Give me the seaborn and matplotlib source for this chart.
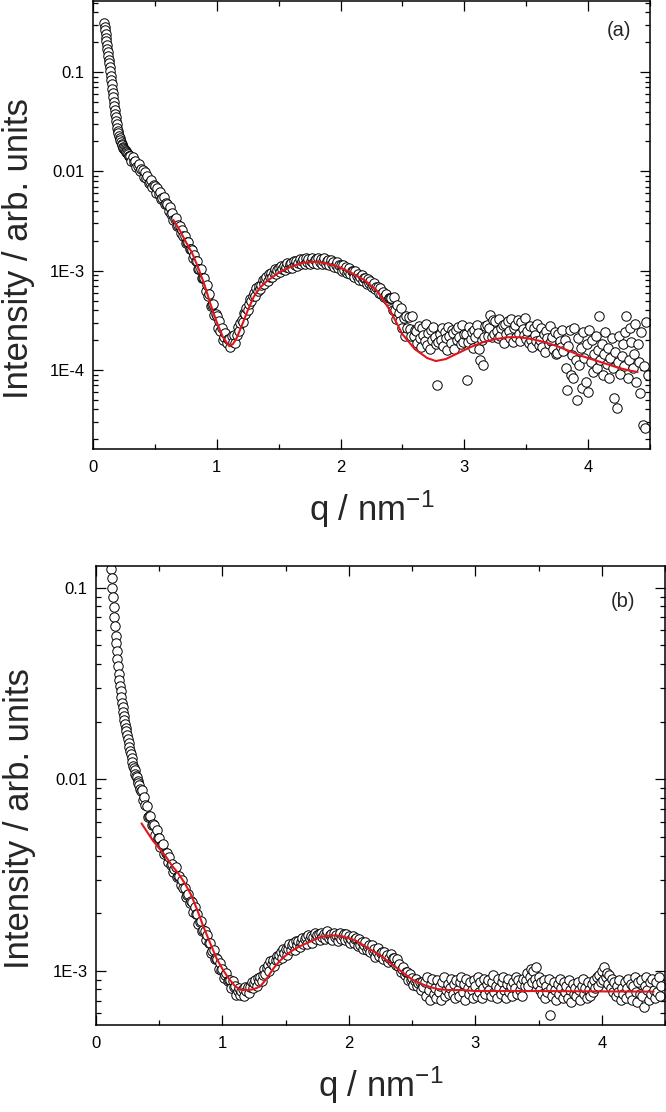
import numpy as np
import matplotlib
matplotlib.use("Agg")
import matplotlib.pyplot as plt
from matplotlib.ticker import FixedLocator, FixedFormatter, LogLocator, NullFormatter, MultipleLocator
import seaborn as sns

sns.set_style("ticks")
plt.rcParams["font.family"] = ["Liberation Sans", "DejaVu Sans"]
plt.rcParams["mathtext.default"] = "regular"

q_a = [0.089, 0.093, 0.097, 0.101, 0.105, 0.109, 0.113, 0.117, 0.121, 0.125,
       0.129, 0.133, 0.137, 0.141, 0.145, 0.149, 0.153, 0.157, 0.161, 0.165,
       0.169, 0.173, 0.177, 0.181, 0.185, 0.189, 0.193, 0.197, 0.201, 0.206,
       0.211, 0.216, 0.221, 0.226, 0.231, 0.236, 0.241, 0.246, 0.251, 0.257,
       0.263, 0.269, 0.275, 0.281, 0.287, 0.293,
       0.30, 0.31, 0.32, 0.33, 0.34, 0.35, 0.36, 0.37, 0.38, 0.39,
       0.40, 0.41, 0.42, 0.43, 0.44, 0.45, 0.46, 0.47, 0.48, 0.49,
       0.50, 0.51, 0.52, 0.53, 0.54, 0.55, 0.56, 0.57, 0.58, 0.59,
       0.60, 0.61, 0.62, 0.63, 0.64, 0.65, 0.66, 0.67, 0.68, 0.69,
       0.70, 0.71, 0.72, 0.73, 0.74, 0.75, 0.76, 0.77, 0.78, 0.79,
       0.80, 0.81, 0.82, 0.83, 0.84, 0.85, 0.86, 0.87, 0.88, 0.89,
       0.90, 0.91, 0.92, 0.93, 0.94, 0.95, 0.96, 0.97, 0.98, 0.99,
       1.00, 1.01, 1.02, 1.03, 1.04, 1.05, 1.06, 1.07, 1.08, 1.09,
       1.10, 1.11, 1.12, 1.13, 1.14, 1.15, 1.16, 1.17, 1.18, 1.19,
       1.20, 1.21, 1.22, 1.23, 1.24, 1.25, 1.26, 1.27, 1.28, 1.29,
       1.30, 1.31, 1.32, 1.33, 1.34, 1.35, 1.36, 1.37, 1.38, 1.39,
       1.40, 1.41, 1.42, 1.43, 1.44, 1.45, 1.46, 1.47, 1.48, 1.49,
       1.50, 1.51, 1.52, 1.53, 1.54, 1.55, 1.56, 1.57, 1.58, 1.59,
       1.60, 1.61, 1.62, 1.63, 1.64, 1.65, 1.66, 1.67, 1.68, 1.69,
       1.70, 1.71, 1.72, 1.73, 1.74, 1.75, 1.76, 1.77, 1.78, 1.79,
       1.80, 1.81, 1.82, 1.83, 1.84, 1.85, 1.86, 1.87, 1.88, 1.89,
       1.90, 1.91, 1.92, 1.93, 1.94, 1.95, 1.96, 1.97, 1.98, 1.99,
       2.00, 2.01, 2.02, 2.03, 2.04, 2.05, 2.06, 2.07, 2.08, 2.09,
       2.10, 2.11, 2.12, 2.13, 2.14, 2.15, 2.16, 2.17, 2.18, 2.19,
       2.20, 2.21, 2.22, 2.23, 2.24, 2.25, 2.26, 2.27, 2.28, 2.29,
       2.30, 2.31, 2.32, 2.33, 2.34, 2.35, 2.36, 2.37, 2.38, 2.39,
       2.40,
       2.41, 2.42, 2.43, 2.44, 2.45, 2.46, 2.47, 2.48, 2.49, 2.50,
       2.51, 2.52, 2.53, 2.54, 2.55, 2.56, 2.57, 2.58, 2.59, 2.60,
       2.61, 2.62, 2.63, 2.64, 2.65, 2.66, 2.67, 2.68, 2.69, 2.70,
       2.71, 2.72, 2.73, 2.74, 2.75, 2.76, 2.77, 2.78, 2.79, 2.80,
       2.81, 2.82, 2.83, 2.84, 2.85, 2.86, 2.87, 2.88, 2.89, 2.90,
       2.91, 2.92, 2.93, 2.94, 2.95, 2.96, 2.97, 2.98, 2.99, 3.00,
       3.01, 3.02, 3.03, 3.04, 3.05, 3.06, 3.07, 3.08, 3.09, 3.10,
       3.11, 3.12, 3.13, 3.14, 3.15, 3.16, 3.17, 3.18, 3.19, 3.20,
       3.21, 3.22, 3.23, 3.24, 3.25, 3.26, 3.27, 3.28, 3.29, 3.30,
       3.31, 3.32, 3.33, 3.34, 3.35, 3.36, 3.37, 3.38, 3.39, 3.40,
       3.41, 3.42, 3.43, 3.44, 3.45, 3.46, 3.47, 3.48, 3.49, 3.50,
       3.51, 3.52, 3.53, 3.54, 3.55, 3.56, 3.57, 3.58, 3.59, 3.60,
       3.61, 3.62, 3.63, 3.64, 3.65, 3.66, 3.67, 3.68, 3.69, 3.70,
       3.71, 3.72, 3.73, 3.74, 3.75, 3.76, 3.77, 3.78, 3.79, 3.80,
       3.81, 3.82, 3.83, 3.84, 3.85, 3.86, 3.87, 3.88, 3.89, 3.90,
       3.91, 3.92, 3.93, 3.94, 3.95, 3.96, 3.97, 3.98, 3.99, 4.00,
       4.01, 4.02, 4.03, 4.04, 4.05, 4.06, 4.07, 4.08, 4.09, 4.10,
       4.11, 4.12, 4.13, 4.14, 4.15, 4.16, 4.17, 4.18, 4.19, 4.20,
       4.21, 4.22, 4.23, 4.24, 4.25, 4.26, 4.27, 4.28, 4.29, 4.30,
       4.31, 4.32, 4.33, 4.34, 4.35, 4.36, 4.37, 4.38, 4.39, 4.40,
       4.41, 4.42, 4.43, 4.44, 4.45, 4.46, 4.47, 4.48]
logi_a = [-0.51, -0.55, -0.58, -0.62, -0.66, -0.69, -0.73, -0.77, -0.80, -0.84,
          -0.88, -0.91, -0.95, -0.99, -1.04, -1.08, -1.12, -1.17, -1.21, -1.25,
          -1.30, -1.34, -1.38, -1.42, -1.45, -1.49, -1.52, -1.56, -1.59, -1.61,
          -1.64, -1.66, -1.68, -1.70, -1.72, -1.73, -1.75, -1.76, -1.77, -1.78,
          -1.79, -1.80, -1.81, -1.82, -1.84, -1.85,
          -1.84, -1.90, -1.86, -1.91, -1.90, -1.96, -1.95, -1.93, -2.00, -1.98,
          -1.99, -2.06, -2.01, -2.07, -2.05, -2.12, -2.11, -2.09, -2.16, -2.14,
          -2.15, -2.22, -2.17, -2.23, -2.21, -2.28, -2.27, -2.26, -2.33, -2.32,
          -2.33, -2.40, -2.36, -2.43, -2.42, -2.49, -2.48, -2.47, -2.55, -2.54,
          -2.55, -2.62, -2.59, -2.65, -2.65, -2.72, -2.71, -2.71, -2.78, -2.78,
          -2.79, -2.87, -2.84, -2.90, -2.90, -2.98, -2.98, -2.98, -3.07, -3.07,
          -3.07, -3.20, -3.14, -3.25, -3.23, -3.36, -3.35, -3.34, -3.45, -3.44,
          -3.46, -3.58, -3.51, -3.61, -3.58, -3.70, -3.67, -3.63, -3.73, -3.69,
          -3.69, -3.77, -3.66, -3.72, -3.65, -3.73, -3.65, -3.57, -3.61, -3.53,
          -3.50, -3.52, -3.43, -3.44, -3.38, -3.40, -3.34, -3.29, -3.31, -3.26,
          -3.22, -3.25, -3.17, -3.20, -3.15, -3.18, -3.14, -3.09, -3.13, -3.08,
          -3.06, -3.10, -3.03, -3.06, -3.02, -3.06, -3.02, -2.98, -3.03, -2.99,
          -2.97, -3.01, -2.95, -2.98, -2.95, -2.99, -2.96, -2.92, -2.97, -2.93,
          -2.92, -2.97, -2.90, -2.94, -2.90, -2.95, -2.92, -2.88, -2.93, -2.90,
          -2.88, -2.93, -2.87, -2.91, -2.88, -2.93, -2.90, -2.87, -2.92, -2.89,
          -2.88, -2.93, -2.87, -2.91, -2.88, -2.93, -2.90, -2.87, -2.93, -2.90,
          -2.89, -2.94, -2.89, -2.93, -2.91, -2.96, -2.94, -2.91, -2.97, -2.94,
          -2.94, -3.00, -2.94, -2.99, -2.96, -3.02, -3.00, -2.97, -3.03, -3.00,
          -3.00, -3.06, -3.00, -3.05, -3.03, -3.09, -3.06, -3.04, -3.10, -3.07,
          -3.07, -3.13, -3.08, -3.12, -3.10, -3.16, -3.14, -3.12, -3.18, -3.16,
          -3.16, -3.22, -3.17, -3.23, -3.21, -3.27, -3.25, -3.23, -3.30, -3.28,
          -3.28,
          -3.28, -3.40, -3.27, -3.40, -3.49, -3.35, -3.43, -3.51, -3.38, -3.58,
          -3.48, -3.66, -3.46, -3.58, -3.47, -3.59, -3.66, -3.46, -3.66, -3.60,
          -3.61, -3.73, -3.56, -3.68, -3.77, -3.58, -3.65, -3.71, -3.54, -3.75,
          -3.63, -3.79, -3.60, -3.70, -3.57, -3.67, -3.74, -4.15, -3.72, -3.64,
          -3.70, -3.58, -3.76, -3.62, -3.68, -3.80, -3.57, -3.66, -3.73, -3.60,
          -3.63, -3.79, -3.60, -3.70, -3.57, -3.67, -3.74, -3.55, -3.72, -3.64,
          -3.64, -4.10, -3.72, -3.57, -3.69, -3.62, -3.78, -3.60, -3.67, -3.55,
          -3.63, -3.79, -3.90, -3.70, -3.95, -3.67, -3.56, -3.55, -3.66, -3.58,
          -3.45, -3.67, -3.50, -3.64, -3.51, -3.61, -3.68, -3.49, -3.66, -3.58,
          -3.55, -3.73, -3.54, -3.64, -3.51, -3.61, -3.68, -3.49, -3.72, -3.58,
          -3.55, -3.67, -3.50, -3.64, -3.71, -3.52, -3.59, -3.65, -3.48, -3.69,
          -3.61, -3.73, -3.56, -3.70, -3.77, -3.58, -3.65, -3.71, -3.54, -3.75,
          -3.70, -3.58, -3.77, -3.64, -3.82, -3.61, -3.68, -3.74, -3.56, -3.71,
          -3.67, -3.79, -3.62, -3.84, -3.83, -3.64, -3.71, -3.77, -3.60, -3.81,
          -3.70, -3.98, -4.20, -3.76, -3.60, -4.05, -3.85, -4.08, -3.58, -3.90,
          -4.30, -3.68, -3.95, -3.78, -4.18, -3.62, -3.88, -4.12, -3.74, -4.22,
          -3.60, -3.92, -3.70, -4.02, -3.84, -3.66, -3.98, -3.80, -3.46, -3.90,
          -3.74, -4.05, -3.84, -3.62, -3.94, -3.78, -4.08, -3.88, -3.68, -3.98,
          -4.28, -3.82, -4.38, -3.92, -3.66, -4.04, -3.86, -3.74, -3.96, -3.62,
          -3.46, -4.08, -3.90, -3.58, -3.72, -3.98, -3.84, -3.54, -4.12, -3.74,
          -3.92, -4.23, -3.62, -4.55, -3.96, -4.58, -3.52, -4.05]

# panel (a): fitted curve
qfit_a = [0.65, 0.70, 0.75, 0.80, 0.85, 0.90, 0.95, 1.00, 1.05, 1.10,
          1.13, 1.16, 1.20, 1.25, 1.30, 1.35, 1.40, 1.50, 1.60, 1.70,
          1.80, 1.90, 2.00, 2.10, 2.20, 2.30, 2.40, 2.50, 2.60, 2.70,
          2.77, 2.85, 2.95, 3.05, 3.15, 3.25, 3.35, 3.45, 3.55, 3.65,
          3.75, 3.85, 3.95, 4.05, 4.15, 4.25, 4.35, 4.40]
logfit_a = [-2.49, -2.59, -2.71, -2.82, -2.97, -3.14, -3.34, -3.52, -3.67, -3.76,
            -3.74, -3.68, -3.56, -3.40, -3.26, -3.17, -3.11, -3.02, -2.96, -2.92,
            -2.91, -2.93, -2.97, -3.03, -3.10, -3.21, -3.40, -3.64, -3.79, -3.88,
            -3.91, -3.89, -3.83, -3.77, -3.72, -3.69, -3.67, -3.67, -3.69, -3.72,
            -3.76, -3.81, -3.86, -3.90, -3.94, -3.98, -4.01, -4.02]

# ---- panel (b): measured points ----
q_b = [0.119, 0.124, 0.129, 0.134, 0.140, 0.145, 0.150, 0.155, 0.160, 0.165,
       0.170, 0.175, 0.180, 0.185, 0.190, 0.195, 0.200, 0.205, 0.210, 0.215,
       0.220, 0.225, 0.230, 0.235, 0.240, 0.246, 0.252, 0.258, 0.264, 0.270,
       0.276, 0.282, 0.288, 0.294, 0.300, 0.306, 0.312, 0.318, 0.324, 0.330,
       0.336, 0.342, 0.348, 0.354,
       0.36, 0.37, 0.38, 0.39, 0.40, 0.41, 0.42, 0.43, 0.44, 0.45,
       0.46, 0.47, 0.48, 0.49, 0.50, 0.51, 0.52, 0.53, 0.54, 0.55,
       0.56, 0.57, 0.58, 0.59, 0.60, 0.61, 0.62, 0.63, 0.64, 0.65,
       0.66, 0.67, 0.68, 0.69, 0.70, 0.71, 0.72, 0.73, 0.74, 0.75,
       0.76, 0.77, 0.78, 0.79, 0.80, 0.81, 0.82, 0.83, 0.84, 0.85,
       0.86, 0.87, 0.88, 0.89, 0.90, 0.91, 0.92, 0.93, 0.94, 0.95,
       0.96, 0.97, 0.98, 0.99, 1.00, 1.01, 1.02, 1.03, 1.04, 1.05,
       1.06, 1.07, 1.08, 1.09, 1.10, 1.11, 1.12, 1.13, 1.14, 1.15,
       1.16, 1.17, 1.18, 1.19, 1.20, 1.21, 1.22, 1.23, 1.24, 1.25,
       1.26, 1.27, 1.28, 1.29, 1.30, 1.31, 1.32, 1.33, 1.34, 1.35,
       1.36, 1.37, 1.38, 1.39, 1.40, 1.41, 1.42, 1.43, 1.44, 1.45,
       1.46, 1.47, 1.48, 1.49, 1.50, 1.51, 1.52, 1.53, 1.54, 1.55,
       1.56, 1.57, 1.58, 1.59, 1.60, 1.61, 1.62, 1.63, 1.64, 1.65,
       1.66, 1.67, 1.68, 1.69, 1.70, 1.71, 1.72, 1.73, 1.74, 1.75,
       1.76, 1.77, 1.78, 1.79, 1.80, 1.81, 1.82, 1.83, 1.84, 1.85,
       1.86, 1.87, 1.88, 1.89, 1.90, 1.91, 1.92, 1.93, 1.94, 1.95,
       1.96, 1.97, 1.98, 1.99, 2.00, 2.01, 2.02, 2.03, 2.04, 2.05,
       2.06, 2.07, 2.08, 2.09, 2.10, 2.11, 2.12, 2.13, 2.14, 2.15,
       2.16, 2.17, 2.18, 2.19, 2.20, 2.21, 2.22, 2.23, 2.24, 2.25,
       2.26, 2.27, 2.28, 2.29, 2.30, 2.31, 2.32, 2.33, 2.34, 2.35,
       2.36, 2.37, 2.38, 2.39, 2.40, 2.41, 2.42, 2.43, 2.44, 2.45,
       2.46, 2.47, 2.48, 2.49, 2.50, 2.51, 2.52, 2.53, 2.54, 2.55,
       2.56, 2.57, 2.58, 2.59,
       2.60, 2.61, 2.62, 2.63, 2.64, 2.65, 2.66, 2.67, 2.68, 2.69,
       2.70, 2.71, 2.72, 2.73, 2.74, 2.75, 2.76, 2.77, 2.78, 2.79,
       2.80, 2.81, 2.82, 2.83, 2.84, 2.85, 2.86, 2.87, 2.88, 2.89,
       2.90, 2.91, 2.92, 2.93, 2.94, 2.95, 2.96, 2.97, 2.98, 2.99,
       3.00, 3.01, 3.02, 3.03, 3.04, 3.05, 3.06, 3.07, 3.08, 3.09,
       3.10, 3.11, 3.12, 3.13, 3.14, 3.15, 3.16, 3.17, 3.18, 3.19,
       3.20, 3.21, 3.22, 3.23, 3.24, 3.25, 3.26, 3.27, 3.28, 3.29,
       3.30, 3.31, 3.32, 3.33, 3.34, 3.35, 3.36, 3.37, 3.38, 3.39,
       3.40, 3.41, 3.42, 3.43, 3.44, 3.45, 3.46, 3.47, 3.48, 3.49,
       3.50, 3.51, 3.52, 3.53, 3.54, 3.55, 3.56, 3.57, 3.58, 3.59,
       3.60, 3.61, 3.62, 3.63, 3.64, 3.65, 3.66, 3.67, 3.68, 3.69,
       3.70, 3.71, 3.72, 3.73, 3.74, 3.75, 3.76, 3.77, 3.78, 3.79,
       3.80, 3.81, 3.82, 3.83, 3.84, 3.85, 3.86, 3.87, 3.88, 3.89,
       3.90, 3.91, 3.92, 3.93, 3.94, 3.95, 3.96, 3.97, 3.98, 3.99,
       4.00, 4.01, 4.02, 4.03, 4.04, 4.05, 4.06, 4.07, 4.08, 4.09,
       4.10, 4.11, 4.12, 4.13, 4.14, 4.15, 4.16, 4.17, 4.18, 4.19,
       4.20, 4.21, 4.22, 4.23, 4.24, 4.25, 4.26, 4.27, 4.28, 4.29,
       4.30, 4.31, 4.32, 4.33, 4.34, 4.35, 4.36, 4.37, 4.38, 4.39,
       4.40, 4.41, 4.42, 4.43, 4.44, 4.45, 4.46, 4.47]
logi_b = [-0.90, -0.95, -1.00, -1.05, -1.10, -1.15, -1.20, -1.25, -1.29, -1.33,
          -1.37, -1.41, -1.45, -1.48, -1.51, -1.54, -1.57, -1.60, -1.62, -1.65,
          -1.67, -1.69, -1.71, -1.73, -1.75, -1.77, -1.79, -1.81, -1.83, -1.85,
          -1.87, -1.89, -1.91, -1.93, -1.94, -1.95, -1.97, -1.98, -1.99, -2.01,
          -2.02, -2.03, -2.05, -2.06,
          -2.055, -2.11, -2.09, -2.135, -2.14, -2.195, -2.19, -2.19, -2.24, -2.235,
          -2.24, -2.29, -2.265, -2.305, -2.305, -2.355, -2.345, -2.34, -2.39, -2.385,
          -2.385, -2.43, -2.405, -2.445, -2.44, -2.485, -2.47, -2.46, -2.51, -2.505,
          -2.505, -2.55, -2.525, -2.565, -2.565, -2.615, -2.605, -2.60, -2.645, -2.635,
          -2.64, -2.69, -2.665, -2.705, -2.705, -2.755, -2.745, -2.74, -2.79, -2.785,
          -2.79, -2.84, -2.815, -2.855, -2.855, -2.905, -2.895, -2.89, -2.94, -2.935,
          -2.94, -2.99, -2.96, -2.995, -2.99, -3.035, -3.02, -3.01, -3.055, -3.045,
          -3.045, -3.09, -3.055, -3.085, -3.08, -3.125, -3.105, -3.09, -3.125, -3.105,
          -3.095, -3.13, -3.085, -3.105, -3.085, -3.115, -3.085, -3.06, -3.09, -3.065,
          -3.05, -3.08, -3.035, -3.055, -3.03, -3.055, -3.02, -2.99, -3.015, -2.985,
          -2.97, -3.00, -2.95, -2.965, -2.945, -2.975, -2.945, -2.92, -2.945, -2.915,
          -2.90, -2.93, -2.885, -2.905, -2.885, -2.915, -2.885, -2.86, -2.89, -2.865,
          -2.855, -2.89, -2.845, -2.865, -2.845, -2.875, -2.85, -2.83, -2.86, -2.835,
          -2.825, -2.86, -2.815, -2.835, -2.82, -2.855, -2.825, -2.80, -2.835, -2.815,
          -2.805, -2.84, -2.80, -2.825, -2.805, -2.835, -2.81, -2.79, -2.83, -2.815,
          -2.805, -2.84, -2.80, -2.825, -2.81, -2.845, -2.82, -2.80, -2.835, -2.82,
          -2.805, -2.84, -2.805, -2.835, -2.82, -2.855, -2.835, -2.82, -2.855, -2.835,
          -2.83, -2.87, -2.835, -2.865, -2.85, -2.885, -2.865, -2.85, -2.89, -2.875,
          -2.865, -2.90, -2.865, -2.895, -2.885, -2.925, -2.90, -2.88, -2.92, -2.905,
          -2.90, -2.94, -2.90, -2.925, -2.915, -2.955, -2.93, -2.91, -2.95, -2.935,
          -2.93, -2.97, -2.94, -2.975, -2.965, -3.005, -2.99, -2.98, -3.02, -3.005,
          -3.005, -3.05, -3.015, -3.045, -3.035, -3.075, -3.055, -3.04, -3.08, -3.065,
          -3.06, -3.10, -3.06, -3.085,
          -3.06, -3.13, -3.03, -3.10, -3.15, -3.07, -3.04, -3.12, -3.09, -3.14,
          -3.05, -3.11, -3.08, -3.15, -3.06, -3.03, -3.13, -3.10, -3.07, -3.12,
          -3.09, -3.04, -3.12, -3.07, -3.14, -3.05, -3.10, -3.13, -3.06, -3.03,
          -3.11, -3.07, -3.15, -3.04, -3.09, -3.12, -3.06, -3.10, -3.14, -3.05,
          -3.08, -3.13, -3.03, -3.11, -3.06, -3.14, -3.09, -3.04, -3.12, -3.07,
          -3.05, -3.10, -3.13, -3.06, -3.02, -3.11, -3.08, -3.14, -3.04, -3.09,
          -3.12, -3.06, -3.03, -3.10, -3.14, -3.07, -3.04, -3.11, -3.08, -3.13,
          -3.06, -3.09, -3.03, -3.12, -3.05, -3.10, -3.07, -3.13, -3.04, -3.08,
          -3.05, -3.01, -3.08, -3.03, -2.99, -3.06, -3.00, -3.04, -2.98, -3.07,
          -3.03, -3.10, -3.06, -3.12, -3.05, -3.14, -3.08, -3.11, -3.04, -3.23,
          -3.09, -3.13, -3.06, -3.10, -3.15, -3.07, -3.12, -3.04, -3.09, -3.14,
          -3.06, -3.11, -3.08, -3.14, -3.05, -3.10, -3.16, -3.07, -3.12, -3.09,
          -3.13, -3.06, -3.10, -3.15, -3.08, -3.04, -3.12, -3.09, -3.14, -3.06,
          -3.10, -3.13, -3.07, -3.11, -3.05, -3.09, -3.03, -3.08, -3.02, -3.06,
          -3.00, -3.05, -2.98, -3.03, -3.01, -3.07, -3.02, -3.09, -3.04, -3.11,
          -3.06, -3.13, -3.08, -3.11, -3.05, -3.15, -3.09, -3.12, -3.06, -3.14,
          -3.09, -3.04, -3.12, -3.07, -3.15, -3.08, -3.03, -3.11, -3.16, -3.06,
          -3.12, -3.05, -3.13, -3.19, -3.08, -3.03, -3.10, -3.15, -3.06, -3.12,
          -3.04, -3.10, -3.14, -3.06, -3.11, -3.03, -3.13, -3.08]

# panel (b): fitted curve
qfit_b = [0.36, 0.40, 0.45, 0.50, 0.55, 0.60, 0.65, 0.70, 0.75, 0.80,
          0.85, 0.90, 0.95, 1.00, 1.05, 1.10, 1.15, 1.20, 1.25, 1.30,
          1.35, 1.40, 1.45, 1.50, 1.55, 1.60, 1.65, 1.70, 1.75, 1.80,
          1.85, 1.90, 1.95, 2.00, 2.05, 2.10, 2.15, 2.20, 2.25, 2.30,
          2.35, 2.40, 2.45, 2.50, 2.55, 2.60, 2.65, 2.70, 2.80, 2.90,
          3.00, 3.50, 4.00, 4.41]
logfit_b = [-2.23, -2.27, -2.32, -2.36, -2.40, -2.45, -2.49, -2.54, -2.60, -2.68,
            -2.77, -2.85, -2.93, -2.99, -3.04, -3.08, -3.10, -3.10, -3.095, -3.08,
            -3.04, -2.99, -2.95, -2.92, -2.895, -2.875, -2.86, -2.845, -2.83, -2.82,
            -2.815, -2.815, -2.82, -2.83, -2.84, -2.86, -2.88, -2.90, -2.92, -2.945,
            -2.97, -2.995, -3.02, -3.045, -3.06, -3.075, -3.085, -3.095, -3.10, -3.10,
            -3.105, -3.105, -3.107, -3.108]

assert len(q_a) == len(logi_a), (len(q_a), len(logi_a))
assert len(q_b) == len(logi_b), (len(q_b), len(logi_b))
assert len(qfit_a) == len(logfit_a)
assert len(qfit_b) == len(logfit_b)

y_ticks = [1e-4, 1e-3, 1e-2, 1e-1]
y_ticklabels = ["1E-4", "1E-3", "0.01", "0.1"]
x_ticks = [0, 1, 2, 3, 4]

fit_red = "#e3151b"

fig = plt.figure(figsize=(6.66, 11.12), dpi=100)
ax_a = fig.add_axes([93 / 666, 1 - 449 / 1112, 557 / 666, 448 / 1112])
ax_b = fig.add_axes([96 / 666, 1 - 1025 / 1112, 569 / 666, 459 / 1112])

panels = [
    (ax_a, q_a, logi_a, qfit_a, logfit_a, (1.6e-5, 0.52), "(a)", (0.945, 0.935), (-0.104, 0.448), -0.088),
    (ax_b, q_b, logi_b, qfit_b, logfit_b, (5.22e-4, 0.13), "(b)", (0.926, 0.922), (-0.105, 0.449), -0.086),
]

for ax, q, logi, qf, logf, ylim, tag, tagpos, ylabpos, xlaby in panels:
    ax.set_yscale("log")
    # open circles for the data
    sns.scatterplot(x=q, y=10 ** np.array(logi), ax=ax, marker="o", s=46,
                    color="white", edgecolor="black", linewidth=0.7,
                    legend=False, zorder=2)
    # red fit on top
    sns.lineplot(x=qf, y=10 ** np.array(logf), ax=ax, color=fit_red,
                 linewidth=1.5, estimator=None, sort=False, zorder=3)

    ax.set_xlim(0, 4.5)
    ax.set_ylim(*ylim)

    ax.xaxis.set_major_locator(FixedLocator(x_ticks))
    ax.xaxis.set_minor_locator(MultipleLocator(0.5))
    ax.yaxis.set_major_locator(FixedLocator(y_ticks))
    ax.yaxis.set_major_formatter(FixedFormatter(y_ticklabels))
    ax.yaxis.set_minor_locator(LogLocator(base=10, subs=np.arange(2, 10)))
    ax.yaxis.set_minor_formatter(NullFormatter())

    ax.tick_params(which="both", direction="in", top=True, right=True,
                   width=0.9, colors="black", labelsize=12)
    ax.tick_params(which="major", length=7)
    ax.tick_params(which="minor", length=3.8)
    ax.tick_params(axis="x", which="major", pad=8)
    ax.tick_params(axis="y", which="major", pad=6)
    for sp in ax.spines.values():
        sp.set_linewidth(1.1)
        sp.set_color("black")

    ax.set_xlabel("q / nm$^{-1}$", fontsize=25)
    ax.set_ylabel("Intensity / arb. units", fontsize=25)
    ax.xaxis.set_label_coords(0.5, xlaby)
    ax.yaxis.set_label_coords(*ylabpos)

    ax.text(tagpos[0], tagpos[1], tag, transform=ax.transAxes, fontsize=14.5,
            ha="center", va="center")

fig.savefig("out.png", dpi=100)
